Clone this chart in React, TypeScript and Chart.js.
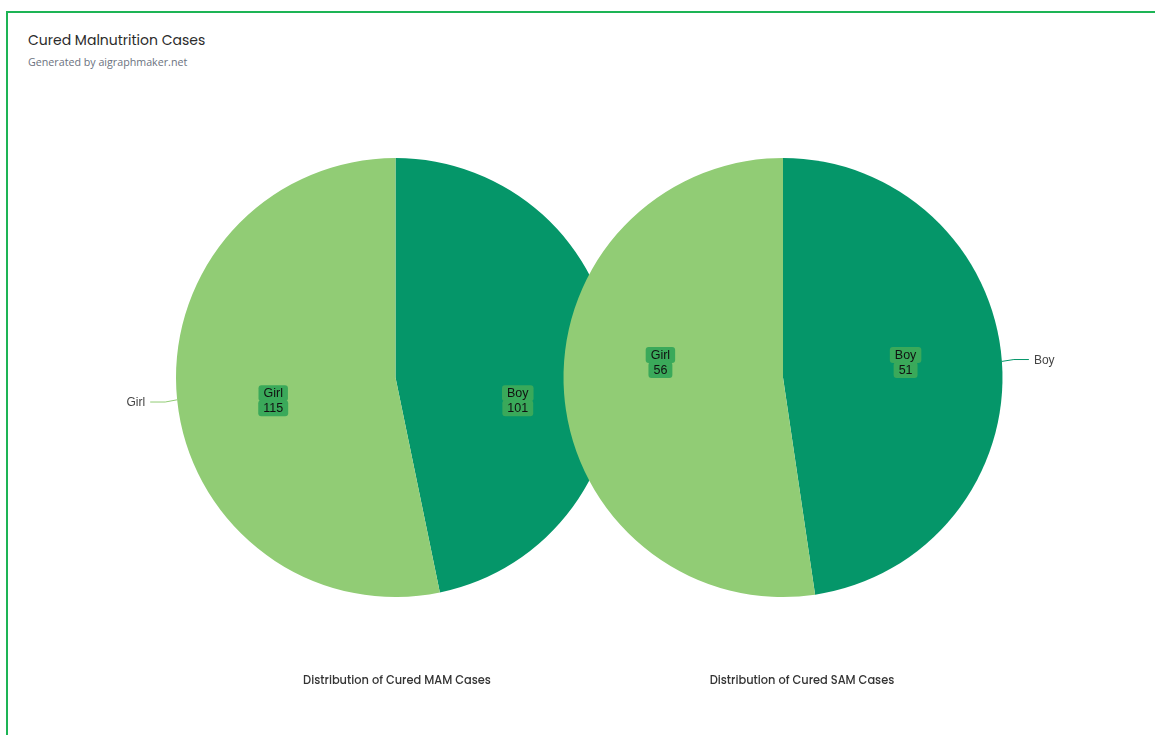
import React, { useEffect, useRef } from "react";
import { Chart, registerables } from "chart.js";

Chart.register(...registerables);

const sliceLabels = ["Boy", "Girl"];
const mamValues = [101, 115];
const samValues = [51, 56];
const sliceColors = ["#059669", "#91cc75"];
const chartTitles = ["Distribution of Cured MAM Cases", "Distribution of Cured SAM Cases"];

const labelPlugin = {
  id: "sliceLabels",
  afterDatasetsDraw(chart: any, _args: any, opts: any) {
    const ctx = chart.ctx;
    const meta = chart.getDatasetMeta(0);
    const ds = chart.data.datasets[0];
    const labels = chart.data.labels;
    const side = opts.outerSide === "left" ? -1 : 1;
    const geo = meta.data.map((arc: any) => {
      const p = arc.getProps(["x", "y", "startAngle", "endAngle", "outerRadius"], true);
      const mid = (p.startAngle + p.endAngle) / 2;
      return { ...p, cos: Math.cos(mid), sin: Math.sin(mid) };
    });
    // shared label row: level of the outside-labelled slice edge
    const outer = geo.find((g: any) => Math.sign(g.cos) === side);
    const rowY = outer ? outer.y + outer.sin * outer.outerRadius : geo[0].y;
    ctx.save();
    geo.forEach((p: any, i: number) => {
      // inner label
      const lx = p.x + p.cos * p.outerRadius * 0.56;
      const ly = rowY + 1;
      const lines = [String(labels[i]), String(ds.data[i])];
      ctx.font = "12.5px 'Liberation Sans', Arial, sans-serif";
      ctx.textAlign = "center";
      ctx.textBaseline = "middle";
      lines.forEach((t, k) => {
        const w = ctx.measureText(t).width + 10;
        const h = 16;
        const cy = ly + (k === 0 ? -7.5 : 7.5);
        ctx.fillStyle = "#3aa95a";
        ctx.beginPath();
        (ctx as any).roundRect(lx - w / 2, cy - h / 2, w, h, 3);
        ctx.fill();
      });
      lines.forEach((t, k) => {
        const cy = ly + (k === 0 ? -7.5 : 7.5);
        ctx.fillStyle = "#111";
        ctx.fillText(t, lx, cy + 0.5);
      });
      // outer label
      if (Math.sign(p.cos) === side) {
        const ex = p.x + p.cos * p.outerRadius;
        const ey = p.y + p.sin * p.outerRadius;
        const bx = p.x + p.cos * (p.outerRadius + 12);
        const by = p.y + p.sin * (p.outerRadius + 12) + (side < 0 ? 1 : -1);
        const tx = bx + side * 15;
        ctx.strokeStyle = ds.backgroundColor[i];
        ctx.lineWidth = 1;
        ctx.beginPath();
        ctx.moveTo(ex, ey);
        ctx.lineTo(bx, by);
        ctx.lineTo(tx, by);
        ctx.stroke();
        ctx.font = "12px 'Liberation Sans', Arial, sans-serif";
        ctx.fillStyle = "#444";
        ctx.textAlign = side < 0 ? "right" : "left";
        ctx.textBaseline = "middle";
        ctx.fillText(String(labels[i]), tx + side * 5, by + 1);
      }
    });
    // chart title under the pie
    ctx.font = "500 11.4px Poppins, 'Open Sans', sans-serif";
    ctx.fillStyle = "#333";
    ctx.textAlign = "center";
    ctx.textBaseline = "middle";
    ctx.fillText(opts.title, chart.width / 2, chart.chartArea.bottom + 84);
    ctx.restore();
  },
};

function PieCanvas(props: {
  values: number[];
  title: string;
  side: string;
  left: number;
  width: number;
  padRight: number;
}) {
  const ref = useRef<HTMLCanvasElement>(null);
  useEffect(() => {
    if (!ref.current) return;
    const chart = new Chart(ref.current, {
      type: "pie",
      data: {
        labels: sliceLabels,
        datasets: [
          {
            data: props.values,
            backgroundColor: sliceColors,
            borderWidth: 0,
          },
        ],
      },
      options: {
        responsive: false,
        animation: false,
        layout: { padding: { top: 158, bottom: 138, left: 0, right: props.padRight } },
        plugins: {
          legend: { display: false },
          tooltip: { enabled: false },
          sliceLabels: { outerSide: props.side, title: props.title },
        } as any,
      },
      plugins: [labelPlugin],
    });
    return () => chart.destroy();
  }, []);
  return (
    <canvas
      ref={ref}
      width={props.width}
      height={735}
      style={{ position: "absolute", left: props.left, top: 0, width: props.width, height: 735 }}
    />
  );
}

export default function App() {
  return (
    <div style={{ position: "fixed", left: 0, top: 0, width: 1155, height: 735, background: "#fff", overflow: "hidden" }}>
      <div
        style={{
          position: "absolute",
          left: 6,
          top: 11,
          width: 1200,
          height: 800,
          border: "2px solid #1db455",
          boxSizing: "border-box",
        }}
      />
      <div
        style={{
          position: "absolute",
          left: 28,
          top: 30,
          fontFamily: "Poppins, 'Open Sans', sans-serif",
          fontSize: 14,
          fontWeight: 400,
          color: "#2b2b2b",
          whiteSpace: "nowrap",
          lineHeight: "20px",
        }}
      >
        Cured Malnutrition Cases
      </div>
      <div
        style={{
          position: "absolute",
          left: 28,
          top: 54,
          fontFamily: "'Open Sans', sans-serif",
          fontSize: 10.7,
          color: "#6b7280",
          whiteSpace: "nowrap",
          lineHeight: "16px",
        }}
      >
        Generated by aigraphmaker.net
      </div>
      <PieCanvas values={mamValues} title={chartTitles[0]} side="left" left={0} width={794} padRight={3} />
      <PieCanvas values={samValues} title={chartTitles[1]} side="right" left={452} width={700} padRight={38} />
    </div>
  );
}
